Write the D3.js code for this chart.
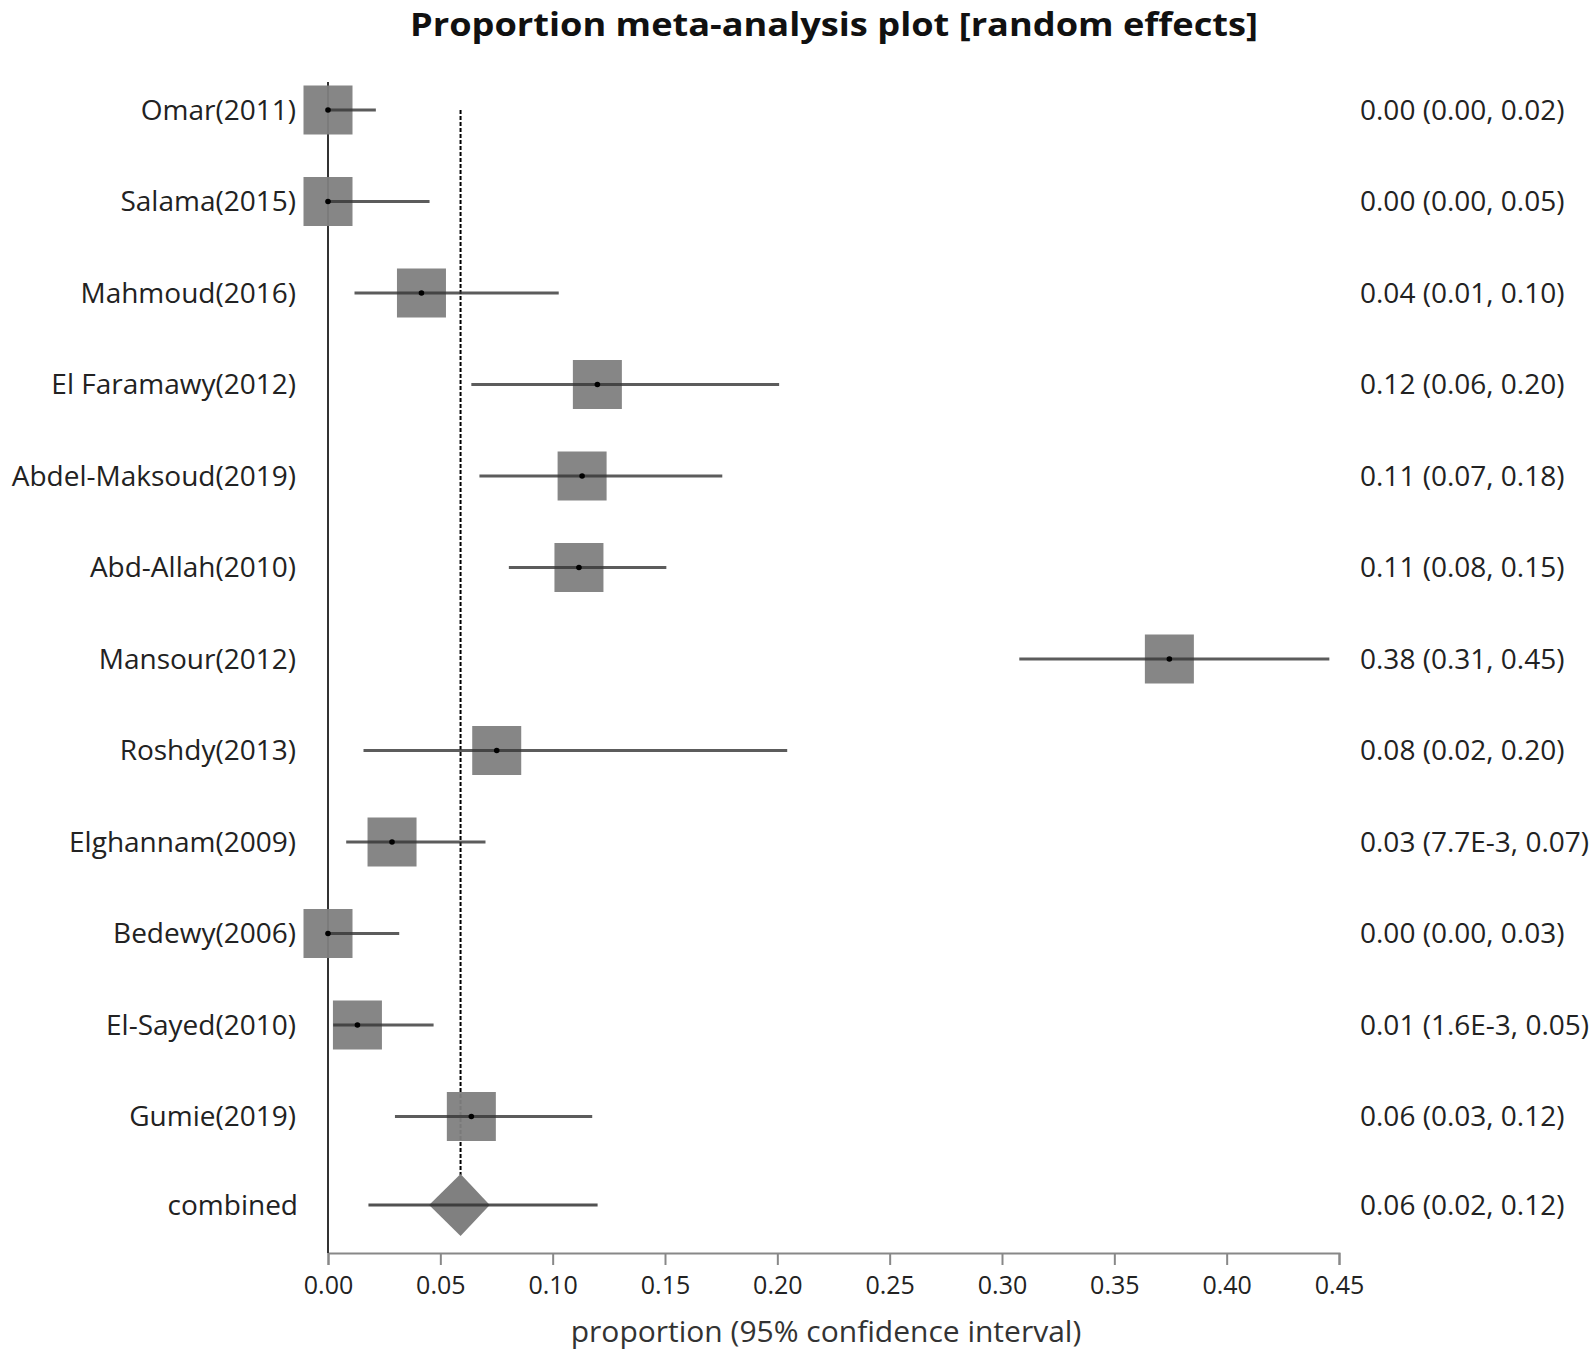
<!DOCTYPE html>
<html>
<head>
<meta charset="utf-8">
<script src="https://cdn.jsdelivr.net/npm/d3@7"></script>
<style>
  body { margin: 0; background: #fff; }
  svg text { font-family: "Open Sans", "Noto Sans", sans-serif; }
</style>
</head>
<body>
<div id="chart"></div>
<script>
const studies = ["Omar(2011)", "Salama(2015)", "Mahmoud(2016)", "El Faramawy(2012)", "Abdel-Maksoud(2019)",
  "Abd-Allah(2010)", "Mansour(2012)", "Roshdy(2013)", "Elghannam(2009)", "Bedewy(2006)", "El-Sayed(2010)", "Gumie(2019)"];
const estimates = [0.0, 0.0, 0.0416, 0.1199, 0.1131, 0.1117, 0.3745, 0.0751, 0.0285, 0.0, 0.0131, 0.0638];
const lower = [0.0, 0.0, 0.0118, 0.0638, 0.0674, 0.0805, 0.3077, 0.0158, 0.0081, 0.0, 0.0023, 0.0298];
const upper = [0.0213, 0.0452, 0.1027, 0.2008, 0.1755, 0.1506, 0.4457, 0.2044, 0.0701, 0.0317, 0.0470, 0.1176];
const ciLabels = ["0.00 (0.00, 0.02)", "0.00 (0.00, 0.05)", "0.04 (0.01, 0.10)", "0.12 (0.06, 0.20)", "0.11 (0.07, 0.18)",
  "0.11 (0.08, 0.15)", "0.38 (0.31, 0.45)", "0.08 (0.02, 0.20)", "0.03 (7.7E-3, 0.07)", "0.00 (0.00, 0.03)",
  "0.01 (1.6E-3, 0.05)", "0.06 (0.03, 0.12)"];
const combinedLabel = "combined";
const combinedEstimate = 0.059;
const combinedLower = 0.018;
const combinedUpper = 0.120;
const combinedDiamondLo = 0.045;
const combinedDiamondHi = 0.072;
const combinedCiLabel = "0.06 (0.02, 0.12)";
const tickValues = [0, 0.05, 0.10, 0.15, 0.20, 0.25, 0.30, 0.35, 0.40, 0.45];
const titleText = "Proportion meta-analysis plot [random effects]";
const xTitle = "proportion (95% confidence interval)";

const W = 1594, H = 1357;
const svg = d3.select("#chart").append("svg").attr("width", W).attr("height", H);

const x = d3.scaleLinear().domain([0, 0.45]).range([328, 1339]);
const rows = studies.concat([combinedLabel]);
const y = d3.scalePoint().domain(d3.range(12)).range([110, 110 + 11 * 91.5]);
const yComb = 1205;
const axisY = 1253;
const sq = 49;

// title
svg.append("text").attr("x", 834).attr("y", 36).attr("text-anchor", "middle")
  .attr("font-size", 33).attr("font-weight", 700).attr("fill", "#111")
  .attr("textLength", 848).attr("lengthAdjust", "spacingAndGlyphs")
  .text(titleText);

// x axis
const xAxis = d3.axisBottom(x).tickValues(tickValues).tickFormat(d3.format(".2f")).tickSizeOuter(12).tickSize(12);
const gx = svg.append("g").attr("transform", `translate(0,${axisY})`).call(xAxis);
gx.select(".domain").attr("stroke", "#888").attr("stroke-width", 2);
gx.selectAll(".tick line").attr("stroke", "#888").attr("stroke-width", 2);
gx.selectAll(".tick text").attr("font-size", 25).attr("fill", "#222").attr("dy", "1.05em")
  .attr("font-family", "'Open Sans', sans-serif");

svg.append("text").attr("x", 826).attr("y", 1342).attr("text-anchor", "middle")
  .attr("font-size", 30).attr("fill", "#333").text(xTitle);

// vertical axis at 0
svg.append("line").attr("x1", x(0)).attr("x2", x(0)).attr("y1", 82).attr("y2", axisY)
  .attr("stroke", "#333").attr("stroke-width", 2);

// dashed pooled line
svg.append("line").attr("x1", x(combinedEstimate)).attr("x2", x(combinedEstimate))
  .attr("y1", y(0)).attr("y2", yComb - 30)
  .attr("stroke", "#000").attr("stroke-width", 2).attr("stroke-dasharray", "4,2");

const g = svg.append("g");
const idx = d3.range(studies.length);

// squares
g.selectAll("rect.sq").data(idx).join("rect").attr("class", "sq")
  .attr("x", i => x(estimates[i]) - sq / 2).attr("y", i => y(i) - sq / 2)
  .attr("width", sq).attr("height", sq).attr("fill", "#808080").attr("opacity", 0.95);

// CI lines
g.selectAll("line.ci").data(idx).join("line").attr("class", "ci")
  .attr("x1", i => x(lower[i])).attr("x2", i => x(upper[i]))
  .attr("y1", i => y(i)).attr("y2", i => y(i))
  .attr("stroke", "#333").attr("stroke-opacity", 0.8).attr("stroke-width", 3);

// dots
g.selectAll("circle.pt").data(idx).join("circle").attr("class", "pt")
  .attr("cx", i => x(estimates[i])).attr("cy", i => y(i)).attr("r", 2.8).attr("fill", "#000");

// combined diamond
const dh = 31;
svg.append("path")
  .attr("d", `M${x(combinedDiamondLo)},${yComb} L${x(combinedEstimate)},${yComb - dh} L${x(combinedDiamondHi)},${yComb} L${x(combinedEstimate)},${yComb + dh} Z`)
  .attr("fill", "#808080");
svg.append("line").attr("x1", x(combinedLower)).attr("x2", x(combinedUpper))
  .attr("y1", yComb).attr("y2", yComb).attr("stroke", "#333").attr("stroke-opacity", 0.85).attr("stroke-width", 3);

// study labels
svg.selectAll("text.lab").data(rows).join("text").attr("class", "lab")
  .attr("x", (d, i) => i < 12 ? 296 : 298).attr("y", (d, i) => i < 12 ? y(i) : yComb)
  .attr("dy", "0.35em").attr("text-anchor", "end").attr("font-size", 28).attr("fill", "#222")
  .text(d => d);

// right labels
svg.selectAll("text.ci").data(ciLabels.concat([combinedCiLabel])).join("text").attr("class", "ci")
  .attr("x", 1360).attr("y", (d, i) => i < 12 ? y(i) : yComb)
  .attr("dy", "0.35em").attr("font-size", 28).attr("fill", "#222")
  .text(d => d);
</script>
</body>
</html>
